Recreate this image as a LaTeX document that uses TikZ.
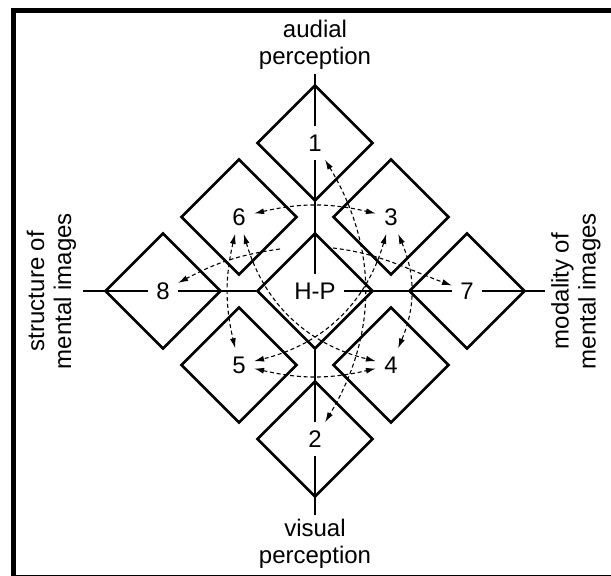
\documentclass[tikz,border=0pt]{standalone}
\usepackage{fontspec}
\setmainfont{Liberation Sans}
\usetikzlibrary{arrows.meta}
\usetikzlibrary{shapes.geometric}
\usetikzlibrary{positioning}
\tikzset{%
  >={Latex[width=3pt,length=5pt]},
  % Specifications for style of nodes:
        cell/.style = {diamond, draw=black, line width=1.3pt,
                       minimum width=58pt, minimum height=58pt, inner sep=0pt},
         num/.style = {inner sep=4pt, font=\fontsize{12}{13.5}\selectfont},
     caption/.style = {inner sep=2pt, align=center,
                       font=\fontsize{12}{13.5}\selectfont},
     sidecap/.style = {caption, rotate=90, inner sep=3pt},
        axis/.style = {line width=0.9pt},
        flow/.style = {dash pattern=on 2pt off 1.4pt, line width=0.55pt},
}

\begin{document}
\begin{tikzpicture}[on grid, node distance=37pt and 38pt]
\useasboundingbox (-157.5pt,-142.5pt) rectangle (148pt,145.5pt);
% frame, cut off on the right
\draw[line width=2.3pt] (160pt,140.25pt) -- (-150.8pt,140.25pt)
                        -- (-150.8pt,-143pt) -- (160pt,-143pt);

\node (HP)     [cell]                       {};
\node (D6)     [cell, above left=of HP]     {};
\node (D3)     [cell, above right=of HP]    {};
\node (D5)     [cell, below left=of HP]     {};
\node (D4)     [cell, below right=of HP]    {};
\node (D1)     [cell, above right=of D6]    {};
\node (D8)     [cell, below left=of D6]     {};
\node (D7)     [cell, below right=of D3]    {};
\node (D2)     [cell, below right=of D5]    {};

\node (NH)     [num] at (HP)                {H-P};
\node (N1)     [num] at (D1)                {1};
\node (N2)     [num] at (D2)                {2};
\node (N3)     [num] at (D3)                {3};
\node (N4)     [num] at (D4)                {4};
\node (N5)     [num] at (D5)                {5};
\node (N6)     [num] at (D6)                {6};
\node (N7)     [num] at (D7)                {7};
\node (N8)     [num] at (D8)                {8};

\node (AP)     [caption, above=49pt of D1]     {audial\\perception};
\node (VP)     [caption, below=52.5pt of D2]   {visual\\perception};
\node (SM)     [sidecap, left=55.75pt of D8]   {structure of\\mental images};
\node (MM)     [sidecap, right=54.5pt of D7]   {modality of\\mental images};

\coordinate (G8) at ([shift={(-17.5pt,21pt)}]HP);
\coordinate (G7) at ([shift={(9pt,21.5pt)}]HP);

\draw[axis]           (AP) -- (N1);
\draw[axis]           (N1) -- (NH);
\draw[axis]           (HP) -- (N2);
\draw[axis]           (N2) -- (VP);
\draw[axis]           (SM) -- (N8);
\draw[axis]           (N8) -- (HP);
\draw[axis]           (NH) -- (N7);
\draw[axis]           (N7) -- (MM);

\draw[flow, <->]      (N6) to[bend left=13]  (N3);
\draw[flow, <->]      (N5) to[bend right=13] (N4);
\draw[flow, <->]      (N6) to[bend right=13] (N5);
\draw[flow, <->]      (N3) to[bend left=23]  (N4);
\draw[flow, <->]      (N6) to[bend right=30] (N4);
\draw[flow, <->]      (N3) to[bend left=30]  (N5);
\draw[flow, <->]      (N1) to[bend left=31]  (N2);
\draw[flow, ->]       (G8) to[out=188, in=28]  (N8);
\draw[flow, ->]       (G7) to[out=-7, in=160]  (N7);
\end{tikzpicture}
\end{document}
